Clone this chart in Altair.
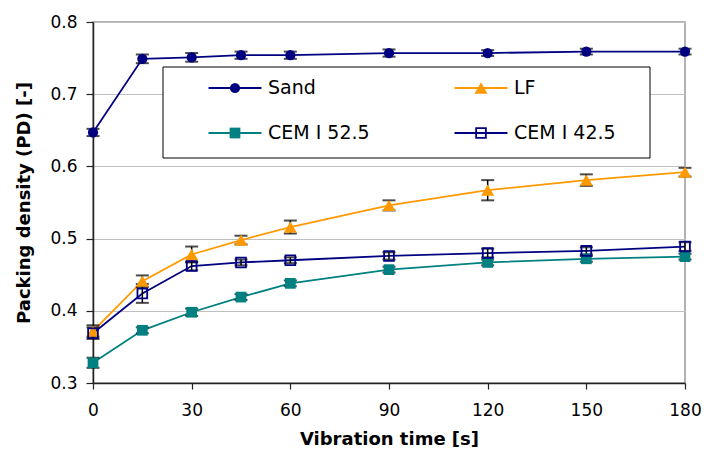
import altair as alt
import pandas as pd

times = [0, 15, 30, 45, 60, 90, 120, 150, 180]
series_names = ["Sand", "LF", "CEM I 52.5", "CEM I 42.5"]
sand = [0.647, 0.749, 0.751, 0.754, 0.754, 0.757, 0.757, 0.759, 0.759]
sand_err = [0.005, 0.006, 0.006, 0.005, 0.005, 0.005, 0.004, 0.004, 0.004]
lf = [0.372, 0.441, 0.478, 0.498, 0.516, 0.546, 0.567, 0.581, 0.592]
lf_err = [0.008, 0.008, 0.011, 0.006, 0.009, 0.007, 0.014, 0.008, 0.006]
cem525 = [0.328, 0.373, 0.398, 0.419, 0.438, 0.457, 0.467, 0.472, 0.475]
cem525_err = [0.007, 0.004, 0.005, 0.004, 0.004, 0.004, 0.004, 0.004, 0.004]
cem425 = [0.369, 0.424, 0.462, 0.467, 0.470, 0.476, 0.480, 0.483, 0.489]
cem425_err = [0.008, 0.013, 0.006, 0.004, 0.004, 0.005, 0.006, 0.005, 0.006]
colors = ["#000080", "#FF9900", "#008080", "#000080"]

rows = []
for name, vals, errs in zip(series_names, [sand, lf, cem525, cem425],
                            [sand_err, lf_err, cem525_err, cem425_err]):
    for t, v, e in zip(times, vals, errs):
        rows.append({"time": t, "pd": v, "lo": v - e, "hi": v + e, "series": name})
df = pd.DataFrame(rows)

# legend layout (plot-area pixels): 2 columns x 2 rows, boxed
leg_rows = []
for i, name in enumerate(series_names):
    c = i % 2
    r = i // 2
    cx = 142 + 246 * c
    leg_rows.append({"series": name, "cx": cx, "x1": cx - 26.5, "x2": cx + 26.5,
                     "tx": cx + 33, "cy": 66 + 45 * r})
ldf = pd.DataFrame(leg_rows)
box = pd.DataFrame([{"x1": 70, "x2": 557, "y1": 45, "y2": 136}])

FONT = "DejaVu Sans"

color_scale = alt.Scale(domain=series_names, range=colors)
xenc = alt.X("time:Q", scale=alt.Scale(domain=[0, 180], nice=False),
             axis=alt.Axis(values=[0, 30, 60, 90, 120, 150, 180], title="Vibration time [s]",
                           grid=False, tickSize=6, labelPadding=13, titlePadding=12,
                           labelFlush=False))
yenc = alt.Y("pd:Q", scale=alt.Scale(domain=[0.3, 0.8], nice=False, zero=False),
             axis=alt.Axis(values=[0.3, 0.4, 0.5, 0.6, 0.7, 0.8], format=".1f",
                           title="Packing density (PD) [-]", grid=True, tickSize=7,
                           labelPadding=9, titlePadding=16, labelFlush=False))

base = alt.Chart(df)
lbase = alt.Chart(ldf)

PX = lambda f: alt.X(f, scale=None, axis=None)
PY = lambda f: alt.Y(f, scale=None, axis=None)

legend_box = alt.Chart(box).mark_rect(fill="white", stroke="black", strokeWidth=1).encode(
    x=PX("x1:Q"), x2="x2:Q", y=PY("y1:Q"), y2="y2:Q")

lines = base.mark_line(strokeWidth=1.8).encode(
    x=xenc, y=yenc,
    color=alt.Color("series:N", scale=color_scale, legend=None),
    detail="series:N",
)

err_rules = base.mark_rule(color="black", strokeWidth=1.5).encode(
    x="time:Q", y="lo:Q", y2="hi:Q")
err_lo = base.mark_tick(color="black", orient="horizontal", size=13, thickness=2).encode(
    x="time:Q", y="lo:Q")
err_hi = base.mark_tick(color="black", orient="horizontal", size=13, thickness=2).encode(
    x="time:Q", y="hi:Q")

SHAPES = {"Sand": ("circle", 105), "LF": ("triangle-up", 170), "CEM I 52.5": ("square", 115)}


def marker_layers(src, xe, ye):
    out = []
    for name, (shape, size) in SHAPES.items():
        out.append(src.transform_filter(alt.datum.series == name).mark_point(
            filled=True, shape=shape, size=size, opacity=1).encode(
            x=xe, y=ye, color=alt.Color("series:N", scale=color_scale, legend=None)))
    out.append(src.transform_filter(alt.datum.series == "CEM I 42.5").mark_point(
        shape="square", size=95, filled=False, stroke="#000080",
        strokeWidth=1.8, opacity=1).encode(x=xe, y=ye))
    return out


data_markers = marker_layers(base, "time:Q", "pd:Q")

leg_lines = lbase.mark_rule(strokeWidth=1.8).encode(
    x=PX("x1:Q"), x2="x2:Q", y=PY("cy:Q"),
    color=alt.Color("series:N", scale=color_scale, legend=None))
leg_markers = marker_layers(lbase, PX("cx:Q"), PY("cy:Q"))
leg_text = lbase.mark_text(align="left", baseline="middle", font=FONT, fontSize=19,
                           color="black").encode(x=PX("tx:Q"), y=PY("cy:Q"), text="series:N")

chart = alt.layer(legend_box, lines, err_rules, err_lo, err_hi, *data_markers,
                  leg_lines, *leg_markers, leg_text).properties(
    width=592, height=361,
    autosize=alt.AutoSizeParams(type="none"),
    padding={"left": 85, "top": 14, "right": 16, "bottom": 64},
).configure_view(stroke="#999999", strokeWidth=1.5).configure_axis(
    labelFont=FONT, labelFontSize=17, labelColor="black",
    titleFont=FONT, titleFontSize=18, titleFontWeight="bold", titleColor="black",
    domainColor="#222222", domainWidth=1.5, tickColor="#222222", tickWidth=1.2,
    gridColor="#c0c0c0", gridWidth=1,
)

chart.save("out.html", embed_options={"renderer": "svg", "actions": False})
